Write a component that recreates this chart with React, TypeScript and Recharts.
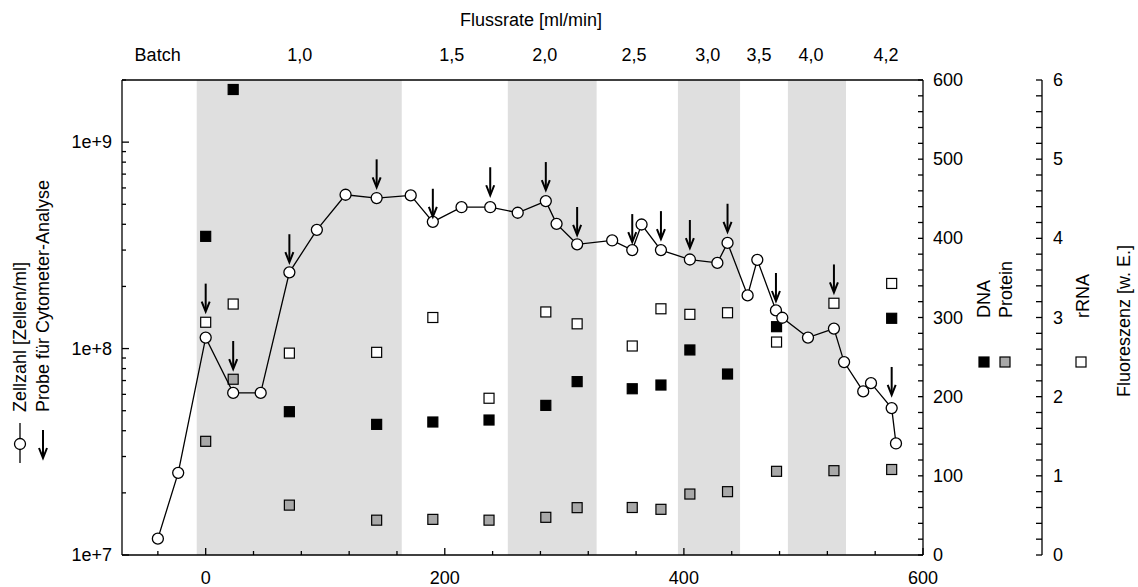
import { ComposedChart, Scatter, XAxis, YAxis, ReferenceArea } from 'recharts'

// Zellzahl (circles, joined by a line)
const zellX = [-40, -23, 0, 23, 46, 70, 93, 117, 143, 171.5, 190, 214, 238, 261, 284.5, 293.5, 310.7, 340, 356.8, 364.6, 380.8, 405, 428, 436.5, 453.3, 461.4, 477, 482.3, 503.8, 525.5, 534, 550, 556.5, 573.8, 577.4]
const zellY = [1.2e7, 2.5e7, 1.13e8, 6.1e7, 6.1e7, 2.34e8, 3.76e8, 5.56e8, 5.36e8, 5.52e8, 4.11e8, 4.84e8, 4.84e8, 4.55e8, 5.18e8, 4.02e8, 3.2e8, 3.34e8, 3.0e8, 3.99e8, 3.0e8, 2.7e8, 2.6e8, 3.25e8, 1.81e8, 2.69e8, 1.53e8, 1.41e8, 1.13e8, 1.25e8, 8.6e7, 6.2e7, 6.8e7, 5.15e7, 3.47e7]

// Cytometer samples: fluorescence
const sampleX = [0, 23, 70, 143, 190, 237, 284.5, 310.7, 356.8, 380.8, 405, 436.5, 477.5, 525.5, 573.8]
const dna = [402.5, 588, 181, 165, 168, 170.5, 189, 219, 210, 214.7, 259, 228.6, 288.4, null, 299]
const protein = [143.6, 222, 63, 44, 45, 44, 47.6, 59.8, 60, 57.7, 77, 80, 105.7, 106.5, 108]
const rrna = [2.94, 3.17, 2.55, 2.56, 3.0, 1.98, 3.07, 2.92, 2.64, 3.11, 3.04, 3.06, 2.69, 3.18, 3.43]

// arrows: "Probe für Cytometer-Analyse" (tip position on the cell-count axis)
const arrowX = [0, 23, 70, 143, 190, 238, 284.5, 310.7, 356.8, 380.8, 405, 436.5, 477, 525.5, 573.8]
const arrowTip = [1.51e8, 7.96e7, 2.62e8, 6.04e8, 4.35e8, 5.53e8, 5.86e8, 3.55e8, 3.28e8, 3.39e8, 3.07e8, 3.68e8, 1.7e8, 1.87e8, 5.96e7]

// flow-rate phases
const bandStart = [-7.5, 252.7, 395, 487]
const bandEnd = [164, 327, 447, 535.6]
const flowX = [-40.2, 78.7, 205.9, 283.7, 358.2, 420, 462.8, 506.3, 569]
const flowLabels = ['Batch', '1,0', '1,5', '2,0', '2,5', '3,0', '3,5', '4,0', '4,2']

const xTicks = Array.from({ length: 17 }, (_, i) => -40 + i * 40)
const logTicks = [1, 2, 3, 4, 5, 6, 7, 8, 9].map(m => m * 1e7)
  .concat([1, 2, 3, 4, 5, 6, 7, 8, 9].map(m => m * 1e8))
  .concat([1e9, 2e9])
const y1Ticks = Array.from({ length: 31 }, (_, i) => i * 20)
const y2Ticks = Array.from({ length: 31 }, (_, i) => Math.round(i * 2) / 10)

const FONT = '"Liberation Sans", Arial, sans-serif'
const FS = 18

const zellData = zellX.map((x, i) => ({ x, y: zellY[i] }))
const arrowData = arrowX.map((x, i) => ({ x, y: arrowTip[i] }))
const dnaData = sampleX.map((x, i) => ({ x, y: dna[i] })).filter(d => d.y !== null)
const proteinData = sampleX.map((x, i) => ({ x, y: protein[i] }))
const rrnaData = sampleX.map((x, i) => ({ x, y: rrna[i] }))

const txt = { fontFamily: FONT, fontSize: FS, fill: '#000' }

const LogTick = (props: any) => {
  const { x, y, payload } = props
  const e = Math.log10(payload.value)
  const major = Math.abs(e - Math.round(e)) < 1e-6
  return (
    <g>
      <line x1={x} x2={x + (major ? 7 : 4)} y1={y} y2={y} stroke="#000" strokeWidth={1.3} />
      {major && (
        <text x={x - 10} y={y} textAnchor="end" dominantBaseline="central" {...txt}>
          {'1e+' + Math.round(e)}
        </text>
      )}
    </g>
  )
}

const BottomTick = (props: any) => {
  const { x, y, payload } = props
  const major = payload.value % 200 === 0
  return (
    <g>
      <line x1={x} x2={x} y1={y} y2={y - (major ? 7 : 4)} stroke="#000" strokeWidth={1.3} />
      {major && (
        <text x={x} y={y + 29} textAnchor="middle" {...txt}>{payload.value}</text>
      )}
    </g>
  )
}

const TopTick = (props: any) => {
  const { x, y, payload } = props
  const i = flowX.indexOf(payload.value)
  return (
    <text x={x} y={y - 19} textAnchor="middle" {...txt}>{flowLabels[i]}</text>
  )
}

const Y1Tick = (props: any) => {
  const { x, y, payload } = props
  const major = payload.value % 100 === 0
  return (
    <g>
      <line x1={x - 5} x2={x} y1={y} y2={y} stroke="#000" strokeWidth={1.3} />
      {major && (
        <text x={x + 10} y={y} dominantBaseline="central" {...txt}>{payload.value}</text>
      )}
    </g>
  )
}

const Y2Tick = (props: any) => {
  const { x, y, payload } = props
  const major = Math.abs(payload.value - Math.round(payload.value)) < 1e-6
  return (
    <g>
      <line x1={x - 6} x2={x} y1={y} y2={y} stroke="#000" strokeWidth={1.3} />
      {major && (
        <text x={x + 11} y={y} dominantBaseline="central" {...txt}>{Math.round(payload.value)}</text>
      )}
    </g>
  )
}

const Circle = (p: any) => (
  <circle cx={p.cx} cy={p.cy} r={5.5} fill="#fff" stroke="#000" strokeWidth={1.3} />
)
const square = (fill: string) => (p: any) => (
  <rect x={p.cx - 5} y={p.cy - 5} width={10} height={10} fill={fill} stroke="#000" strokeWidth={1.2} />
)
const Arrow = (p: any) => (
  <g stroke="#000" strokeWidth={2} fill="none">
    <line x1={p.cx} x2={p.cx} y1={p.cy - 28} y2={p.cy - 2} />
    <path d={`M${p.cx - 4},${p.cy - 10} L${p.cx},${p.cy} L${p.cx + 4},${p.cy - 10}`} />
  </g>
)

const vText = (x: number, y: number, s: string) => (
  <text transform={`rotate(-90 ${x} ${y})`} x={x} y={y} dominantBaseline="central" {...txt}>{s}</text>
)

const LeftLegend = () => (
  <g>
    {vText(20, 412, 'Zellzahl [Zellen/ml]')}
    {vText(43, 412, 'Probe für Cytometer-Analyse')}
    <line x1={20} x2={20} y1={423} y2={463} stroke="#000" strokeWidth={1.3} />
    <circle cx={20} cy={444} r={5.5} fill="#fff" stroke="#000" strokeWidth={1.3} />
    <g stroke="#000" strokeWidth={2} fill="none">
      <line x1={43} x2={43} y1={430} y2={456} />
      <path d="M39,448 L43,458 L47,448" />
    </g>
  </g>
)

const Y1Legend = () => (
  <g>
    {vText(984, 318, 'DNA')}
    {vText(1006, 318, 'Protein')}
    <rect x={979} y={357} width={10} height={10} fill="#000" stroke="#000" strokeWidth={1.2} />
    <rect x={1000} y={357} width={10} height={10} fill="#a8a8a8" stroke="#000" strokeWidth={1.2} />
  </g>
)

const Y2Legend = () => (
  <g>
    {vText(1083, 318, 'rRNA')}
    <rect x={1076} y={357} width={10} height={10} fill="#fff" stroke="#000" strokeWidth={1.2} />
    {vText(1124, 397, 'Fluoreszenz [w. E.]')}
  </g>
)

export default function App() {
  return (
    <div style={{ position: 'absolute', left: 0, top: 0, background: '#fff' }}>
      <ComposedChart width={1138} height={587} margin={{ top: 0, right: 0, bottom: 0, left: 0 }}>
        <XAxis
          xAxisId="bottom" dataKey="x" type="number" domain={[-70, 600]} allowDataOverflow
          ticks={xTicks} interval={0} tickSize={0} tickMargin={0} height={32}
          tick={<BottomTick />} tickLine={false} axisLine={{ stroke: '#000', strokeWidth: 1.3 }}
        />
        <XAxis
          xAxisId="top" orientation="top" dataKey="x" type="number" domain={[-70, 600]} allowDataOverflow
          ticks={flowX} interval={0} tickSize={0} tickMargin={0} height={80}
          tick={<TopTick />} tickLine={false} axisLine={{ stroke: '#000', strokeWidth: 1.3 }}
          label={() => (
            <text x={531} y={26} textAnchor="middle" {...txt}>Flussrate [ml/min]</text>
          )}
        />
        <YAxis
          yAxisId="log" dataKey="y" type="number" scale="log" domain={[1e7, 2e9]} allowDataOverflow
          ticks={logTicks} interval={0} tickSize={0} tickMargin={0} width={122}
          tick={<LogTick />} tickLine={false} axisLine={{ stroke: '#000', strokeWidth: 1.3 }}
          label={() => <LeftLegend />}
        />
        <YAxis
          yAxisId="conc" orientation="right" dataKey="y" type="number" domain={[0, 600]} allowDataOverflow
          ticks={y1Ticks} interval={0} tickSize={0} tickMargin={0} width={119}
          tick={<Y1Tick />} tickLine={false} axisLine={{ stroke: '#000', strokeWidth: 1.3 }}
          label={() => <Y1Legend />}
        />
        <YAxis
          yAxisId="rna" orientation="right" dataKey="y" type="number" domain={[0, 6]} allowDataOverflow
          ticks={y2Ticks} interval={0} tickSize={0} tickMargin={0} width={96}
          tick={<Y2Tick />} tickLine={false} axisLine={{ stroke: '#000', strokeWidth: 1.3 }}
          label={() => <Y2Legend />}
        />
        {bandStart.map((s, i) => (
          <ReferenceArea
            key={i} xAxisId="bottom" yAxisId="log" x1={s} x2={bandEnd[i]}
            fill="#dfdfdf" fillOpacity={1} stroke="none" ifOverflow="visible"
          />
        ))}
        <Scatter xAxisId="bottom" yAxisId="rna" data={rrnaData} shape={square('#fff')} isAnimationActive={false} />
        <Scatter xAxisId="bottom" yAxisId="conc" data={proteinData} shape={square('#a8a8a8')} isAnimationActive={false} />
        <Scatter xAxisId="bottom" yAxisId="conc" data={dnaData} shape={square('#000')} isAnimationActive={false} />
        <Scatter
          xAxisId="bottom" yAxisId="log" data={zellData} shape={Circle}
          line={{ stroke: '#000', strokeWidth: 1.3 }} lineType="joint" isAnimationActive={false}
        />
        <Scatter xAxisId="bottom" yAxisId="log" data={arrowData} shape={Arrow} isAnimationActive={false} />
      </ComposedChart>
    </div>
  )
}
